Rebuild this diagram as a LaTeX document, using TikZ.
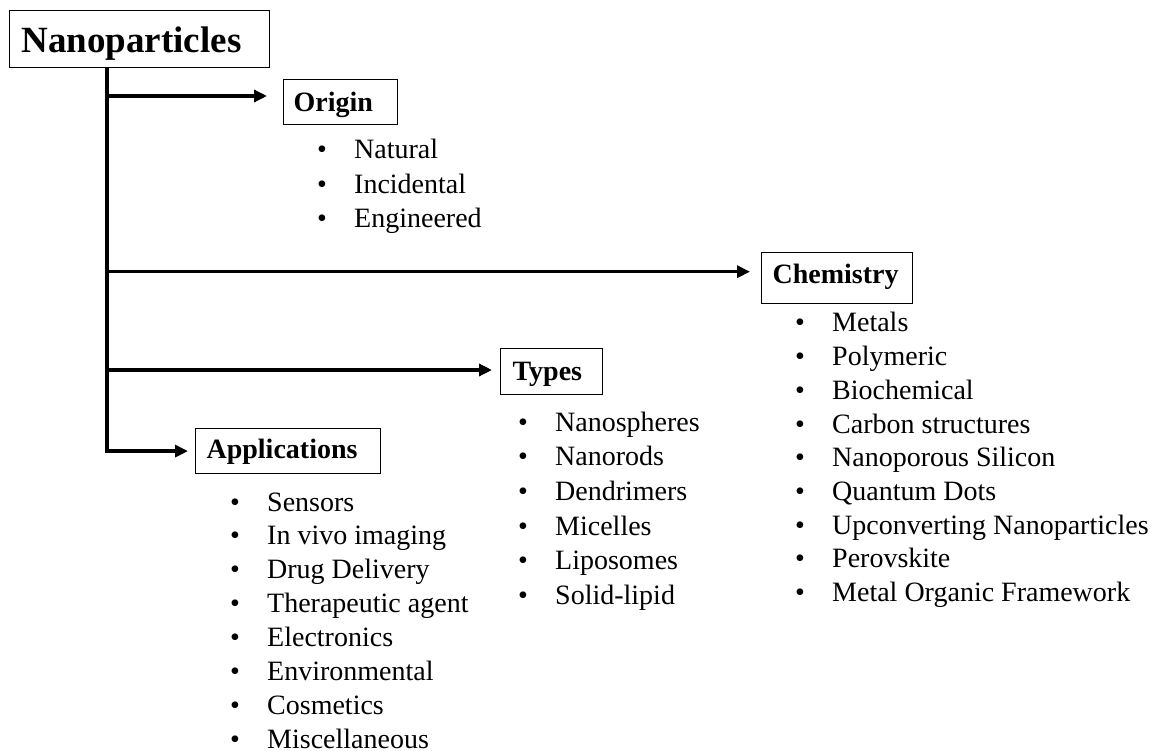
\documentclass[tikz,border=0pt]{standalone}
\usepackage{fontspec}
\setmainfont{Liberation Serif}
\usetikzlibrary{arrows.meta}

\tikzset{
  box/.style={draw, line width=1.2pt, anchor=north west, inner ysep=0pt,
              align=left, font=\fontsize{28}{30}\selectfont\bfseries},
  link/.style={line width=3.5pt, -{Triangle[length=13pt,width=12pt]}},
  trunkline/.style={line width=3.8pt},
  items/.style={anchor=base west, inner sep=0pt},
}
% one bulleted line; a list is a \vtop of these, so its baseline is the first line's
\newcommand{\itm}[1]{\hbox{\makebox[37pt][l]{\textbullet}#1}}

\begin{document}
\begin{tikzpicture}[x=1pt,y=-1pt]
\useasboundingbox (0,0) rectangle (1157,751);

% category boxes
\node[box, font=\fontsize{37}{40}\selectfont\bfseries, inner xsep=12pt,
      text width=236pt, text height=42pt, text depth=15pt] (nano) at (9,10) {Nanoparticles};
\node[box, inner xsep=10pt, text width=94pt, text height=32pt, text depth=13pt]
      (origin) at (283,79) {Origin};
\node[box, inner xsep=11pt, text width=129pt, text height=31pt, text depth=20pt]
      (chem) at (761,252) {Chemistry};
\node[box, inner xsep=12pt, text width=78pt, text height=32pt, text depth=14pt]
      (types) at (500,348) {Types};
\node[box, inner xsep=11pt, text width=163pt, text height=30pt, text depth=15pt]
      (apps) at (195,428) {Applications};

% branch points on the trunk
\coordinate (jorigin) at (107,96);
\coordinate (jchem) at (107,271.7);
\coordinate (jtypes) at (107,370);
\coordinate (jbot) at (107,450);

% trunk and arrows
\draw[trunkline] (nano.south -| jbot) -- (jbot);
\draw[link, shorten >=7pt] (nano.south -| jbot) |- (apps.west);
\draw[link, shorten >=16pt] (jorigin) -- (jorigin -| origin.west);
\draw[link, shorten >=11pt] (jchem) -- (jchem -| chem.west);
\draw[link, shorten >=8pt] (jtypes) -- (jtypes -| types.west);

% bullet lists
\node[items, font=\fontsize{28}{34.5}\selectfont] (olist) at (317,159)
  {\vtop{\itm{Natural}\itm{Incidental}\itm{Engineered}}};

\node[items, font=\fontsize{28}{33.7}\selectfont] (clist) at (795,332)
  {\vtop{\itm{Metals}\itm{Polymeric}\itm{Biochemical}\itm{Carbon structures}%
   \itm{Nanoporous Silicon}\itm{Quantum Dots}\itm{Upconverting Nanoparticles}%
   \itm{Perovskite}\itm{Metal Organic Framework}}};

\node[items, font=\fontsize{28}{34.7}\selectfont] (tlist) at (518,431)
  {\vtop{\itm{Nanospheres}\itm{Nanorods}\itm{Dendrimers}\itm{Micelles}%
   \itm{Liposomes}\itm{Solid-lipid}}};

\node[items, font=\fontsize{28}{33.9}\selectfont] (alist) at (230,511)
  {\vtop{\itm{Sensors}\itm{In vivo imaging}\itm{Drug Delivery}\itm{Therapeutic agent}%
   \itm{Electronics}\itm{Environmental}\itm{Cosmetics}\itm{Miscellaneous}}};
\end{tikzpicture}
\end{document}
